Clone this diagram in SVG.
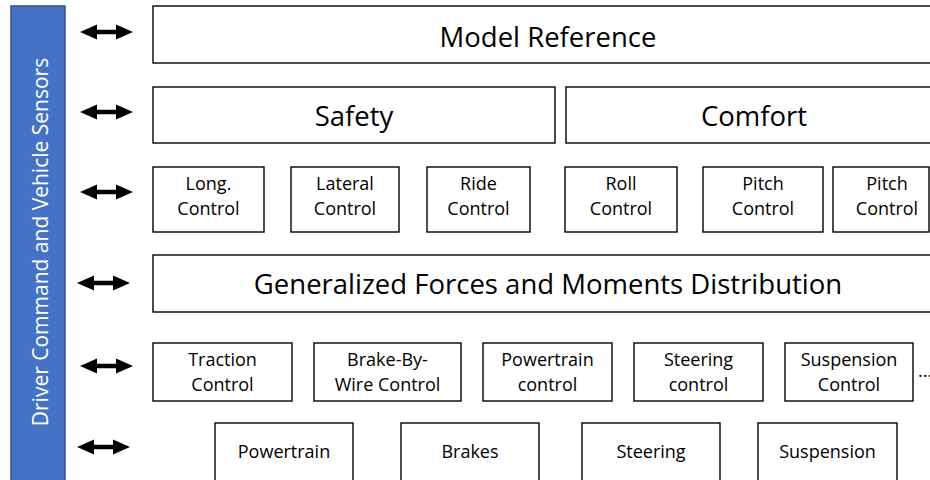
<svg xmlns="http://www.w3.org/2000/svg" width="930" height="480" viewBox="0 0 930 480">
  <defs>
    <style>
      .box { fill: #ffffff; stroke: #000000; stroke-width: 1.4; }
      .big { font-family: "Open Sans", "Liberation Sans", sans-serif; font-size: 27.5px; fill: #000000; text-anchor: middle; }
      .small { font-family: "Open Sans", "Liberation Sans", sans-serif; font-size: 18px; fill: #000000; text-anchor: middle; }
      .side { font-family: "Open Sans", "Liberation Sans", sans-serif; font-size: 21px; fill: #ffffff; text-anchor: middle; }
      .arrow { fill: #000000; }
    </style>
    <!-- double-headed arrow, origin at left tip, vertical centre -->
    <polygon id="dbl" points="0,0 17,-7.5 17,-2.3 36,-2.3 36,-7.5 53,0 36,7.5 36,2.3 17,2.3 17,7.5"/>
  </defs>

  <!-- side bar -->
  <g id="side-bar">
    <rect x="11" y="6" width="54" height="480" fill="#4472C4" stroke="#2F528F" stroke-width="1.5"/>
    <text class="side" transform="translate(48,242) rotate(-90)">Driver Command and Vehicle Sensors</text>
  </g>

  <!-- connectors -->
  <g id="connectors" class="arrow">
    <use href="#dbl" x="80" y="32"/>
    <use href="#dbl" x="80" y="112"/>
    <use href="#dbl" x="80" y="192"/>
    <use href="#dbl" x="77" y="283"/>
    <use href="#dbl" x="80" y="366"/>
    <use href="#dbl" x="77" y="447"/>
  </g>

  <!-- layer 1 -->
  <g id="model-reference">
    <rect class="box" x="153" y="6" width="790" height="57"/>
    <text class="big" x="548" y="47">Model Reference</text>
  </g>

  <!-- layer 2 -->
  <g id="safety">
    <rect class="box" x="153" y="87" width="402" height="56"/>
    <text class="big" x="354" y="126">Safety</text>
  </g>
  <g id="comfort">
    <rect class="box" x="566" y="87" width="380" height="56"/>
    <text class="big" x="754" y="126">Comfort</text>
  </g>

  <!-- layer 3 -->
  <g id="long-control">
    <rect class="box" x="153" y="167" width="111" height="65"/>
    <text class="small" x="208.5" y="190">Long.</text>
    <text class="small" x="208.5" y="215">Control</text>
  </g>
  <g id="lateral-control">
    <rect class="box" x="291" y="167" width="108" height="65"/>
    <text class="small" x="345" y="190">Lateral</text>
    <text class="small" x="345" y="215">Control</text>
  </g>
  <g id="ride-control">
    <rect class="box" x="427" y="167" width="103" height="65"/>
    <text class="small" x="478.5" y="190">Ride</text>
    <text class="small" x="478.5" y="215">Control</text>
  </g>
  <g id="roll-control">
    <rect class="box" x="565" y="167" width="112" height="65"/>
    <text class="small" x="621" y="190">Roll</text>
    <text class="small" x="621" y="215">Control</text>
  </g>
  <g id="pitch-control">
    <rect class="box" x="703" y="167" width="120" height="65"/>
    <text class="small" x="763" y="190">Pitch</text>
    <text class="small" x="763" y="215">Control</text>
  </g>
  <g id="pitch-control-2">
    <rect class="box" x="833" y="167" width="96" height="65"/>
    <text class="small" x="887" y="190">Pitch</text>
    <text class="small" x="887" y="215">Control</text>
  </g>

  <!-- layer 4 -->
  <g id="forces-distribution">
    <rect class="box" x="153" y="255" width="790" height="57"/>
    <text class="big" x="548" y="294">Generalized Forces and Moments Distribution</text>
  </g>

  <!-- layer 5 -->
  <g id="traction-control">
    <rect class="box" x="153" y="343" width="139" height="58"/>
    <text class="small" x="222.5" y="366">Traction</text>
    <text class="small" x="222.5" y="391">Control</text>
  </g>
  <g id="brake-by-wire-control">
    <rect class="box" x="314" y="343" width="147" height="58"/>
    <text class="small" x="387.5" y="366">Brake-By-</text>
    <text class="small" x="387.5" y="391">Wire Control</text>
  </g>
  <g id="powertrain-control">
    <rect class="box" x="483" y="343" width="129" height="58"/>
    <text class="small" x="547.5" y="366">Powertrain</text>
    <text class="small" x="547.5" y="391">control</text>
  </g>
  <g id="steering-control">
    <rect class="box" x="634" y="343" width="129" height="58"/>
    <text class="small" x="698.5" y="366">Steering</text>
    <text class="small" x="698.5" y="391">control</text>
  </g>
  <g id="suspension-control">
    <rect class="box" x="785" y="343" width="128" height="58"/>
    <text class="small" x="849" y="366">Suspension</text>
    <text class="small" x="849" y="391">Control</text>
  </g>
  <text class="small" x="918" y="377" style="text-anchor:start">...</text>

  <!-- layer 6 -->
  <g id="powertrain">
    <rect class="box" x="215" y="423" width="138" height="70"/>
    <text class="small" x="284" y="458">Powertrain</text>
  </g>
  <g id="brakes">
    <rect class="box" x="401" y="423" width="138" height="70"/>
    <text class="small" x="470" y="458">Brakes</text>
  </g>
  <g id="steering">
    <rect class="box" x="582" y="423" width="138" height="70"/>
    <text class="small" x="651" y="458">Steering</text>
  </g>
  <g id="suspension">
    <rect class="box" x="758" y="423" width="139" height="70"/>
    <text class="small" x="827.5" y="458">Suspension</text>
  </g>
</svg>
